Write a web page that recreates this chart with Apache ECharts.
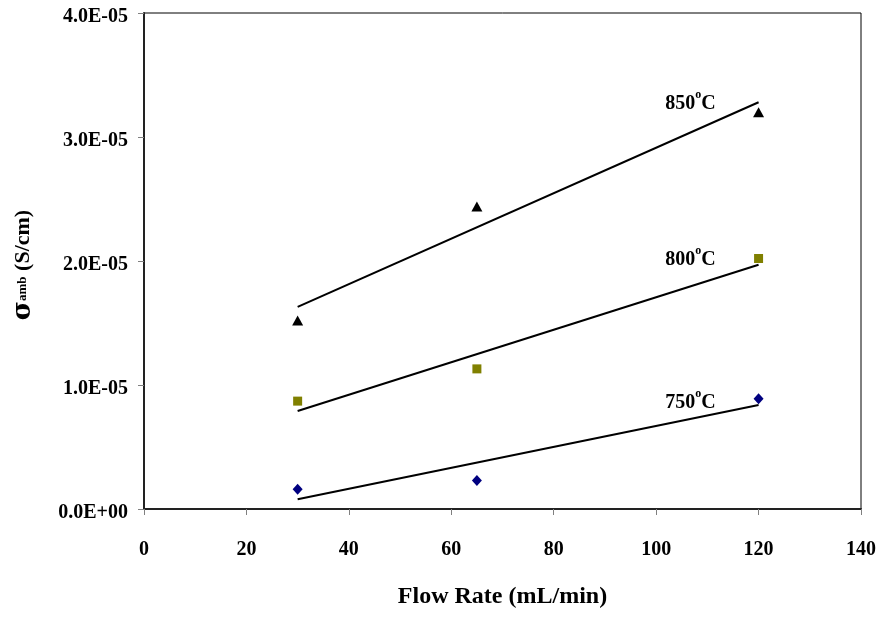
<!DOCTYPE html>
<html>
<head>
<meta charset="utf-8">
<script src="https://cdn.jsdelivr.net/npm/echarts@6/dist/echarts.min.js"></script>
<style>
html,body{margin:0;padding:0;background:#fff;}
#chart{width:882px;height:618px;}
</style>
</head>
<body>
<div id="chart"></div>
<script>
// ---- data ----
var flowRates = [30, 65, 120];
var sigma750 = [1.6e-6, 2.3e-6, 8.9e-6];
var sigma800 = [8.7e-6, 1.13e-5, 2.02e-5];
var sigma850 = [1.52e-5, 2.44e-5, 3.2e-5];
var trendX = [30, 120];
var trend750 = [7.8e-7, 8.39e-6];
var trend800 = [7.9e-6, 1.97e-5];
var trend850 = [1.63e-5, 3.28e-5];
var seriesNames = ['750', '800', '850'];
var labelAnchorX = [101.7, 101.7, 101.7];
var labelAnchorY = [8.6e-6, 2.01e-5, 3.27e-5];
var yTickLabels = ['0.0E+00', '1.0E-05', '2.0E-05', '3.0E-05', '4.0E-05'];
var xTickLabels = ['0', '20', '40', '60', '80', '100', '120', '140'];

function pairs(xs, ys) { return xs.map(function (x, i) { return [x, ys[i]]; }); }

var FONT = "'Liberation Serif', 'Times New Roman', serif";
var chart = echarts.init(document.getElementById('chart'), null, { renderer: 'canvas' });

var markerSeries = [
  { name: '750', data: pairs(flowRates, sigma750), symbol: 'diamond', symbolSize: [10, 11], color: '#000080' },
  { name: '800', data: pairs(flowRates, sigma800), symbol: 'rect', symbolSize: 9, color: '#808000' },
  { name: '850', data: pairs(flowRates, sigma850), symbol: 'triangle', symbolSize: [11, 10], color: '#000000' }
].map(function (s) {
  return {
    type: 'scatter', name: s.name, data: s.data, symbol: s.symbol, symbolSize: s.symbolSize,
    itemStyle: { color: s.color, opacity: 1 }, z: 5, silent: true
  };
});

var trendSeries = [trend750, trend800, trend850].map(function (t, i) {
  return {
    type: 'line', name: 'trend' + seriesNames[i], data: pairs(trendX, t),
    showSymbol: false, symbol: 'none', lineStyle: { color: '#000', width: 2, opacity: 1 }, z: 3, silent: true
  };
});

var labelSeries = {
  type: 'scatter', name: 'labels',
  data: labelAnchorX.map(function (x, i) { return { value: [x, labelAnchorY[i]], name: seriesNames[i] }; }),
  symbolSize: 1, itemStyle: { color: '#fff', opacity: 1 }, silent: true, z: 6,
  label: {
    show: true, position: 'right', distance: 0, opacity: 1, color: '#000',
    formatter: function (p) { return '{n|' + p.name + '}{o|o}{n|C}'; },
    rich: {
      n: { fontFamily: FONT, fontWeight: 'bold', fontSize: 20, color: '#000', lineHeight: 22 },
      o: { fontFamily: FONT, fontWeight: 'bold', fontSize: 12, color: '#000', lineHeight: 12, padding: [0, 0, 17, 0] }
    }
  }
};

chart.setOption({
  animation: false,
  backgroundColor: '#fff',
  grid: { left: 144, right: 21, top: 13, bottom: 109, show: true, borderColor: '#000', borderWidth: 1, containLabel: false },
  xAxis: {
    type: 'value', min: 0, max: 140, interval: 20,
    name: 'Flow Rate (mL/min)', nameLocation: 'middle', nameGap: 76,
    nameTextStyle: { fontFamily: FONT, fontWeight: 'bold', fontSize: 24, color: '#000' },
    axisLine: { show: true, lineStyle: { color: '#222', width: 2 } },
    axisTick: { show: true, length: 6, lineStyle: { color: '#808080', width: 1 } },
    axisLabel: {
      margin: 31, fontFamily: FONT, fontWeight: 'bold', fontSize: 20, color: '#000',
      formatter: function (v) { return xTickLabels[Math.round(v / 20)]; }
    },
    splitLine: { show: false }
  },
  yAxis: {
    type: 'value', min: 0, max: 4e-5, interval: 1e-5,
    name: '{s|σ}{a|amb} (S/cm)', nameLocation: 'middle', nameGap: 108, nameRotate: 90,
    nameTextStyle: {
      fontFamily: FONT, fontWeight: 'bold', fontSize: 22, color: '#000', padding: [0, 8, 0, 0],
      rich: {
        s: { fontFamily: "'DejaVu Serif', serif", fontWeight: 'bold', fontSize: 26, color: '#000' },
        a: { fontFamily: FONT, fontWeight: 'bold', fontSize: 13, color: '#000' }
      }
    },
    axisLine: { show: true, lineStyle: { color: '#222', width: 2 } },
    axisTick: { show: true, length: 6, lineStyle: { color: '#808080', width: 1 } },
    axisLabel: {
      margin: 16, color: '#000',
      formatter: function (v) { return '{t|' + yTickLabels[Math.round(v / 1e-5)] + '}'; },
      rich: {
        t: { fontFamily: FONT, fontWeight: 'bold', fontSize: 20, color: '#000', padding: [8, 0, 0, 0] }
      }
    },
    splitLine: { show: false }
  },
  series: trendSeries.concat(markerSeries, [labelSeries])
});
</script>
</body>
</html>
